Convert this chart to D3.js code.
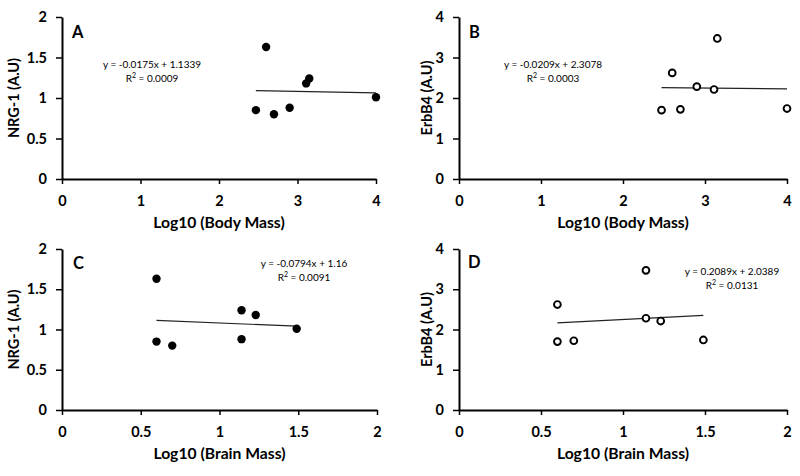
<!DOCTYPE html>
<html>
<head>
<meta charset="utf-8">
<script src="https://cdn.jsdelivr.net/npm/d3@7"></script>
<style>
  html, body { margin: 0; padding: 0; background: #fff; }
  svg { display: block; }
  .tick text { font-family: Lato, "Open Sans", sans-serif; font-weight: bold; font-size: 14.5px; fill: #000; }
  .axis path, .axis line { stroke: #000; }
</style>
</head>
<body>
<svg id="chart" width="800" height="476"></svg>
<script>
// ---- Data (one entry per specimen) ----
const bodyMassLog  = [2.47, 2.60, 2.70, 2.90, 3.11, 3.15, 4.00];
const brainMassLog = [0.60, 0.60, 0.70, 1.14, 1.23, 1.14, 1.49];
const nrg1Values   = [0.85, 1.63, 0.80, 0.88, 1.18, 1.24, 1.01];
const erbb4Values  = [1.70, 2.62, 1.72, 2.28, 2.21, 3.47, 1.74];

const panelLetters = ["A", "B", "C", "D"];
const trendSlopes     = [-0.0175, -0.0209, -0.0794, 0.2089];
const trendIntercepts = [1.1339, 2.3078, 1.16, 2.0389];
const equationLabels  = ["y = -0.0175x + 1.1339", "y = -0.0209x + 2.3078", "y = -0.0794x + 1.16", "y = 0.2089x + 2.0389"];
const r2Labels        = ["0.0009", "0.0003", "0.0091", "0.0131"];

const bodyTicks  = [0, 1, 2, 3, 4];
const brainTicks = [0, 0.5, 1, 1.5, 2];
const nrgTicks   = [0, 0.5, 1, 1.5, 2];
const erbTicks   = [0, 1, 2, 3, 4];

const xTitles = ["Log10 (Body Mass)", "Log10 (Body Mass)", "Log10 (Brain Mass)", "Log10 (Brain Mass)"];
const yTitles = ["NRG-1 (A.U)", "ErbB4  (A.U)", "NRG-1 (A.U)", "ErbB4  (A.U)"];

// ---- Layout ----
const panels = [
  { x: bodyMassLog,  y: nrg1Values,  xt: bodyTicks,  yt: nrgTicks, xr: [62, 376],  yr: [179, 17],  open: false,
    eq: [152, 68], letter: [72, 38], yTitleX: 14 },
  { x: bodyMassLog,  y: erbb4Values, xt: bodyTicks,  yt: erbTicks, xr: [459, 787], yr: [179, 17],  open: true,
    eq: [553, 68], letter: [469, 38], yTitleX: 427 },
  { x: brainMassLog, y: nrg1Values,  xt: brainTicks, yt: nrgTicks, xr: [62, 377],  yr: [410, 249], open: false,
    eq: [304, 267], letter: [73, 269], yTitleX: 14 },
  { x: brainMassLog, y: erbb4Values, xt: brainTicks, yt: erbTicks, xr: [459, 787], yr: [410, 249], open: true,
    eq: [732, 275], letter: [468, 268], yTitleX: 427 }
];

const svg = d3.select("#chart");
const fmt = d => (Number.isInteger(d) ? d3.format("d")(d) : d3.format(".1f")(d));

panels.forEach((p, i) => {
  const x = d3.scaleLinear().domain([p.xt[0], p.xt[p.xt.length - 1]]).range(p.xr);
  const y = d3.scaleLinear().domain([p.yt[0], p.yt[p.yt.length - 1]]).range(p.yr);
  const g = svg.append("g");

  // axes
  const xa = g.append("g").attr("class", "axis")
    .attr("transform", `translate(0,${p.yr[0]})`)
    .call(d3.axisBottom(x).tickValues(p.xt).tickFormat(fmt).tickSizeInner(5).tickSizeOuter(0).tickPadding(12));
  const ya = g.append("g").attr("class", "axis")
    .attr("transform", `translate(${p.xr[0]},0)`)
    .call(d3.axisLeft(y).tickValues(p.yt).tickFormat(fmt).tickSizeInner(6).tickSizeOuter(0).tickPadding(9));
  [xa, ya].forEach(a => {
    a.select(".domain").attr("stroke-width", 2);
    a.selectAll(".tick line").attr("stroke-width", 1.5);
  });

  // axis titles
  g.append("text")
    .attr("x", (p.xr[0] + p.xr[1]) / 2).attr("y", p.yr[0] + 49)
    .attr("text-anchor", "middle")
    .style("font-family", "Lato, 'Open Sans', sans-serif").style("font-weight", "bold").style("font-size", "15.7px")
    .text(xTitles[i]);
  g.append("text")
    .attr("transform", `translate(${p.yTitleX + 5},${(p.yr[0] + p.yr[1]) / 2}) rotate(-90)`)
    .attr("text-anchor", "middle")
    .style("font-family", "Lato, 'Open Sans', sans-serif").style("font-weight", "bold").style("font-size", "14.5px")
    .text(yTitles[i]);

  // panel letter
  g.append("text")
    .attr("x", p.letter[0]).attr("y", p.letter[1])
    .style("font-family", "Lato, 'Open Sans', sans-serif").style("font-weight", "bold").style("font-size", "16.5px")
    .text(panelLetters[i]);

  // trend line
  const xmin = d3.min(p.x), xmax = d3.max(p.x);
  const f = v => trendSlopes[i] * v + trendIntercepts[i];
  g.append("line")
    .attr("x1", x(xmin)).attr("y1", y(f(xmin)))
    .attr("x2", x(xmax)).attr("y2", y(f(xmax)))
    .attr("stroke", "#222").attr("stroke-width", 1.2);

  // points
  g.selectAll("circle").data(p.x.map((v, k) => [v, p.y[k]])).join("circle")
    .attr("cx", d => x(d[0])).attr("cy", d => y(d[1]))
    .attr("r", p.open ? 3.4 : 4.2)
    .attr("fill", p.open ? "#fff" : "#000")
    .attr("stroke", "#000").attr("stroke-width", p.open ? 1.9 : 0);

  // equation labels
  const eqt = g.append("text")
    .attr("text-anchor", "middle")
    .style("font-family", "Lato, 'Open Sans', sans-serif").style("font-size", "10px");
  eqt.append("tspan").attr("x", p.eq[0]).attr("y", p.eq[1]).text(equationLabels[i]);
  const l2 = eqt.append("tspan").attr("x", p.eq[0]).attr("y", p.eq[1] + 14);
  l2.append("tspan").text("R");
  l2.append("tspan").attr("dy", -4).style("font-size", "7px").text("2");
  l2.append("tspan").attr("dy", 4).text(" = " + r2Labels[i]);
});
</script>
</body>
</html>
